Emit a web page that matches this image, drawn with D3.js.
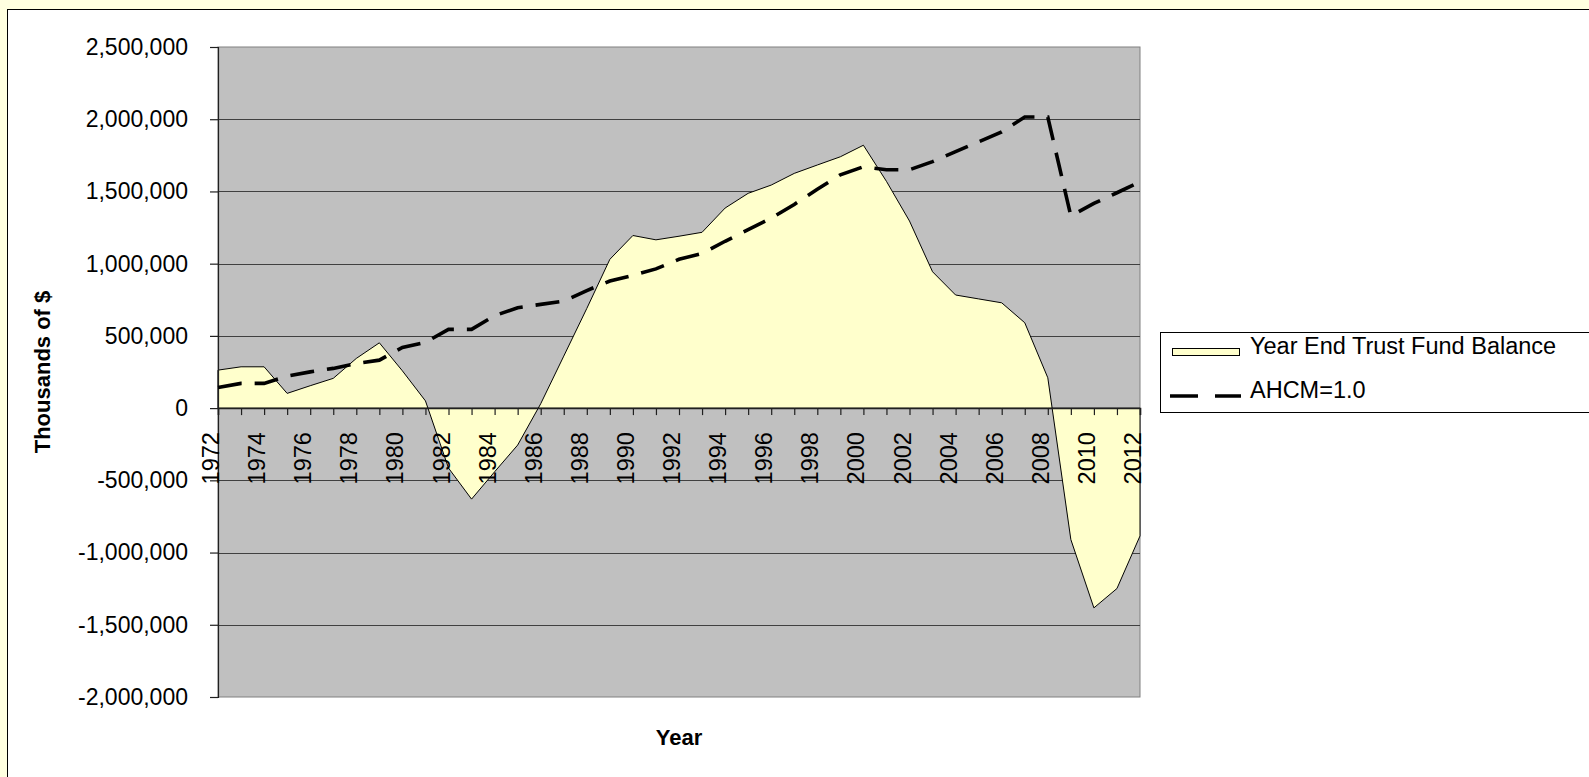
<!DOCTYPE html>
<html>
<head>
<meta charset="utf-8">
<script src="https://cdn.jsdelivr.net/npm/d3@7"></script>
<style>
  html, body { margin: 0; padding: 0; background: #ffffe0; overflow: hidden; }
  svg { display: block; }
  text { font-family: "Liberation Sans", Arial, sans-serif; fill: #000; }
</style>
</head>
<body>
<svg id="chart" width="1589" height="777"></svg>
<script>
// Year-end trust fund balance vs. the AHCM=1.0 target, thousands of dollars
const years = d3.range(1972, 2013);

const balance = [
  263000, 286000, 286000, 102000, 155000, 206000, 344000, 452000, 258000, 50000,
  -415000, -630000, -441000, -256000, 30000, 360000, 690000, 1030000, 1195000, 1165000,
  1190000, 1217000, 1385000, 1487000, 1544000, 1625000, 1683000, 1740000, 1820000, 1570000,
  1295000, 944000, 783000, 756000, 729000, 591000, 210000, -910000, -1383000, -1249000,
  -885000
];

const ahcm = [
  143000, 171000, 171000, 222000, 251000, 275000, 309000, 332000, 420000, 455000,
  545000, 545000, 640000, 695000, 718000, 741000, 814000, 880000, 919000, 964000,
  1030000, 1070000, 1155000, 1235000, 1315000, 1410000, 1515000, 1615000, 1671000, 1650000,
  1650000, 1706000, 1775000, 1844000, 1913000, 2015000, 2015000, 1330000, 1417000, 1491000,
  1567000
];

const yTicks = [2500000, 2000000, 1500000, 1000000, 500000, 0, -500000, -1000000, -1500000, -2000000];
const xLabelYears = years.filter(y => y % 2 === 0);

const seriesNames = ["Year End Trust Fund Balance", "AHCM=1.0"];

const svg = d3.select("#chart");

// plot geometry
const plot = { left: 218, right: 1140, top: 47, bottom: 697 };

const x = d3.scaleLinear().domain([1972, 2012]).range([plot.left, plot.right]);
const y = d3.scaleLinear().domain([-2000000, 2500000]).range([plot.bottom, plot.top]);

const fmt = d3.formatLocale({ decimal: ".", thousands: ",", grouping: [3], currency: ["$", ""], minus: "-" }).format(",");

// white chart area with black frame
svg.append("rect")
  .attr("x", 7.5).attr("y", 9.5)
  .attr("width", 1600).attr("height", 800)
  .attr("fill", "#ffffff").attr("stroke", "#000").attr("stroke-width", 1);

// gray plot background
svg.append("rect")
  .attr("x", plot.left).attr("y", plot.top)
  .attr("width", plot.right - plot.left).attr("height", plot.bottom - plot.top)
  .attr("fill", "#c0c0c0").attr("stroke", "#808080").attr("stroke-width", 1);

// horizontal gridlines
svg.append("g")
  .selectAll("line")
  .data(yTicks.filter(v => v !== 2500000 && v !== -2000000 && v !== 0))
  .join("line")
  .attr("x1", plot.left).attr("x2", plot.right)
  .attr("y1", d => Math.round(y(d)) + 0.5).attr("y2", d => Math.round(y(d)) + 0.5)
  .attr("stroke", "#404040").attr("stroke-width", 1.2);

// trust fund balance area (filled down to zero)
const area = d3.area()
  .x((d, i) => x(years[i]))
  .y0(y(0))
  .y1(d => y(d));

svg.append("path")
  .datum(balance)
  .attr("d", area)
  .attr("fill", "#ffffcc")
  .attr("stroke", "#000")
  .attr("stroke-width", 1)
  .attr("stroke-linejoin", "miter");

// y axis
const yAxis = d3.axisLeft(y)
  .tickValues(yTicks)
  .tickSize(8)
  .tickPadding(22)
  .tickFormat(fmt);

const gy = svg.append("g")
  .attr("transform", `translate(${plot.left},0)`)
  .call(yAxis);
gy.select(".domain").attr("stroke", "#202020").attr("stroke-width", 1.2);
gy.selectAll(".tick line").attr("stroke", "#202020").attr("stroke-width", 1.2);
gy.selectAll(".tick text")
  .attr("font-size", 23)
  .attr("font-family", "Liberation Sans, Arial, sans-serif")
  .attr("fill", "#000");

// x axis on the zero line, ticks every year, labels every other year
const xAxis = d3.axisBottom(x)
  .tickValues(years)
  .tickSize(7)
  .tickFormat(() => "");

const gx = svg.append("g")
  .attr("transform", `translate(0,${y(0)})`)
  .call(xAxis);
gx.select(".domain").attr("stroke", "#202020").attr("stroke-width", 1.5);
gx.selectAll(".tick line").attr("stroke", "#202020").attr("stroke-width", 1.2);

svg.append("g")
  .selectAll("text")
  .data(xLabelYears)
  .join("text")
  .attr("transform", d => `translate(${x(d) + 1},${y(0) + 24}) rotate(-90)`)
  .attr("text-anchor", "end")
  .attr("font-size", 23.5)
  .text(d => d);

// AHCM=1.0 dashed line
const line = d3.line()
  .x((d, i) => x(years[i]))
  .y(d => y(d));

svg.append("path")
  .datum(ahcm)
  .attr("d", line)
  .attr("fill", "none")
  .attr("stroke", "#000")
  .attr("stroke-width", 3.6)
  .attr("stroke-dasharray", "24,13")
  .attr("stroke-linejoin", "miter");

// axis titles
svg.append("text")
  .attr("transform", `translate(50,${(plot.top + plot.bottom) / 2}) rotate(-90)`)
  .attr("text-anchor", "middle")
  .attr("font-size", 22)
  .attr("font-weight", "bold")
  .text("Thousands of $");

svg.append("text")
  .attr("x", (plot.left + plot.right) / 2)
  .attr("y", 745)
  .attr("text-anchor", "middle")
  .attr("font-size", 22)
  .attr("font-weight", "bold")
  .text("Year");

// legend
const lg = svg.append("g");
lg.append("rect")
  .attr("x", 1160.5).attr("y", 332.5)
  .attr("width", 440).attr("height", 80)
  .attr("fill", "#ffffff").attr("stroke", "#000").attr("stroke-width", 1);

lg.append("rect")
  .attr("x", 1172.5).attr("y", 348.5)
  .attr("width", 67).attr("height", 7)
  .attr("fill", "#ffffcc").attr("stroke", "#000").attr("stroke-width", 1);

lg.append("text")
  .attr("x", 1250).attr("y", 354)
  .attr("font-size", 23.5)
  .text(seriesNames[0]);

lg.append("line")
  .attr("x1", 1170).attr("x2", 1241)
  .attr("y1", 396).attr("y2", 396)
  .attr("stroke", "#000").attr("stroke-width", 3.6)
  .attr("stroke-dasharray", "28,17");

lg.append("text")
  .attr("x", 1250).attr("y", 398)
  .attr("font-size", 23.5)
  .text(seriesNames[1]);
</script>
</body>
</html>
